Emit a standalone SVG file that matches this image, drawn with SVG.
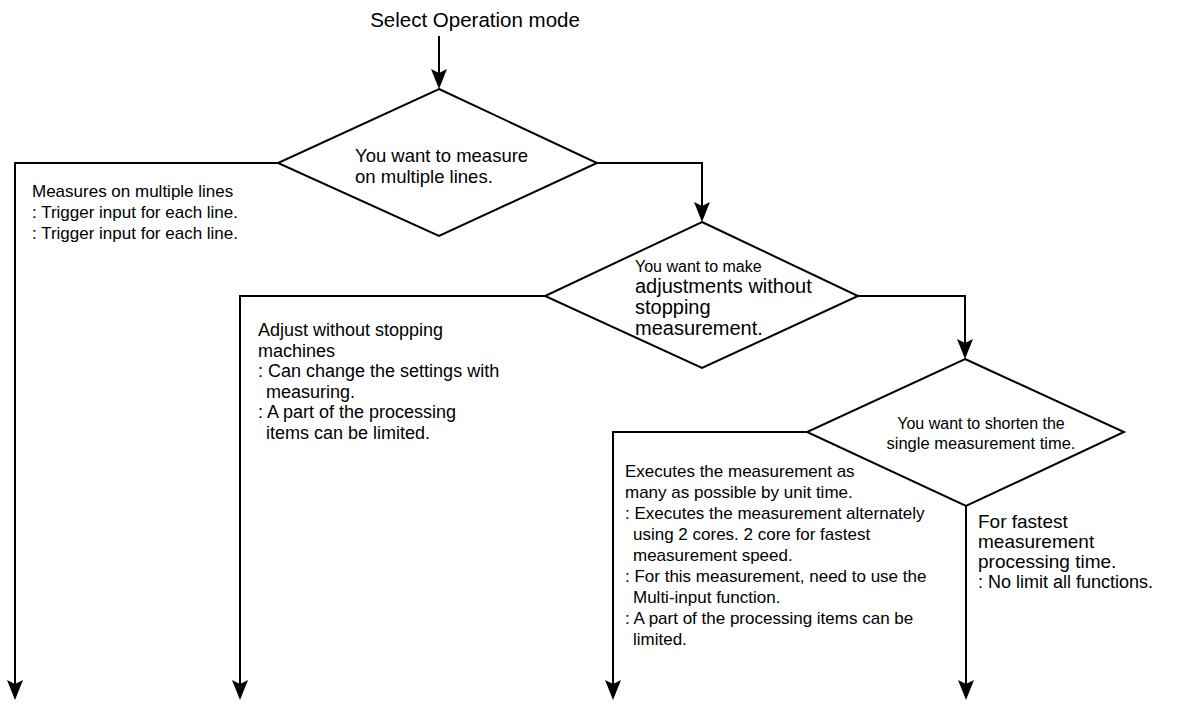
<svg xmlns="http://www.w3.org/2000/svg" width="1177" height="704" viewBox="0 0 1177 704">
<defs>
<marker id="arr" viewBox="0 0 20 16" refX="16" refY="8" markerWidth="20" markerHeight="16" markerUnits="userSpaceOnUse" orient="auto">
<path d="M0,0 L20,8 L0,16 L4,8 Z" fill="#000"/>
</marker>
<style>
.t{font-family:"Liberation Sans",Arial,sans-serif;fill:#000}
.d{fill:#fff;stroke:#000;stroke-width:2}
.c{fill:none;stroke:#000;stroke-width:2}
</style>
</defs>
<rect width="1177" height="704" fill="#fff"/>
<g id="start">
<text class="t" x="475" y="27" font-size="20.5" text-anchor="middle">Select Operation mode</text>
</g>
<g id="connectors">
<path class="c" d="M439,36 V85" marker-end="url(#arr)"/>
<path class="c" d="M278,163 H15 V696" marker-end="url(#arr)"/>
<path class="c" d="M597,163 H702 V218" marker-end="url(#arr)"/>
<path class="c" d="M545,296 H240 V696" marker-end="url(#arr)"/>
<path class="c" d="M858,296 H965 V355" marker-end="url(#arr)"/>
<path class="c" d="M807,432 H613 V696" marker-end="url(#arr)"/>
<path class="c" d="M966,506 V696" marker-end="url(#arr)"/>
</g>
<g id="decision1">
<polygon class="d" points="439,89 597,163 439,236 278,163"/>
<text class="t" font-size="18.5"><tspan x="355" y="162">You want to measure</tspan><tspan x="355" y="183">on multiple lines.</tspan></text>
</g>
<g id="decision2">
<polygon class="d" points="702,222 858,296 702,368 545,296"/>
<text class="t" font-size="20"><tspan x="635" y="272" font-size="16">You want to make</tspan><tspan x="635" y="293">adjustments without</tspan><tspan x="635" y="314">stopping</tspan><tspan x="635" y="335">measurement.</tspan></text>
</g>
<g id="decision3">
<polygon class="d" points="965,359 1124,432 966,506 807,432"/>
<text class="t" font-size="16.5" text-anchor="middle"><tspan x="981" y="429" font-size="16">You want to shorten the</tspan><tspan x="981" y="449">single measurement time.</tspan></text>
</g>
<g id="note1">
<text class="t" font-size="17"><tspan x="32" y="197">Measures on multiple lines</tspan><tspan x="32" y="218">: Trigger input for each line.</tspan><tspan x="32" y="239">: Trigger input for each line.</tspan></text>
</g>
<g id="note2">
<text class="t" font-size="18"><tspan x="258" y="336">Adjust without stopping</tspan><tspan x="258" y="357">machines</tspan><tspan x="258" y="377">: Can change the settings with</tspan><tspan x="266" y="398">measuring.</tspan><tspan x="258" y="418">: A part of the processing</tspan><tspan x="266" y="439">items can be limited.</tspan></text>
</g>
<g id="note3">
<text class="t" font-size="17"><tspan x="625" y="477">Executes the measurement as</tspan><tspan x="625" y="498">many as possible by unit time.</tspan><tspan x="625" y="519">: Executes the measurement alternately</tspan><tspan x="633" y="540">using 2 cores. 2 core for fastest</tspan><tspan x="633" y="561">measurement speed.</tspan><tspan x="625" y="582">: For this measurement, need to use the</tspan><tspan x="633" y="603">Multi-input function.</tspan><tspan x="625" y="624">: A part of the processing items can be</tspan><tspan x="633" y="645">limited.</tspan></text>
</g>
<g id="note4">
<text class="t" font-size="19"><tspan x="978" y="528">For fastest</tspan><tspan x="978" y="548">measurement</tspan><tspan x="978" y="568">processing time.</tspan><tspan x="978" y="588" font-size="18">: No limit all functions.</tspan></text>
</g>
</svg>
